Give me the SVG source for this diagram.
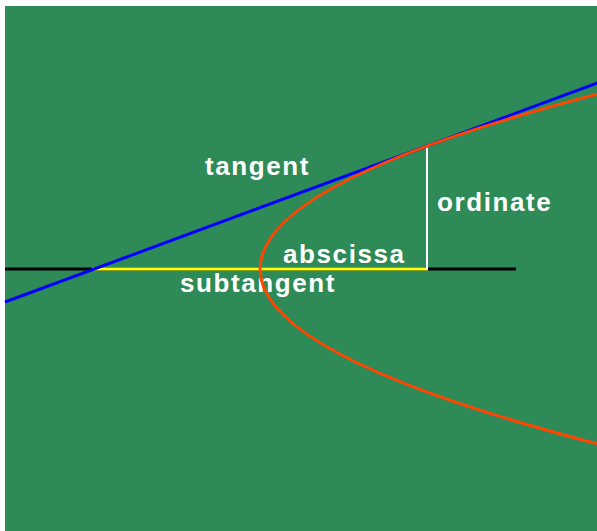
<svg xmlns="http://www.w3.org/2000/svg" width="597" height="531" viewBox="0 0 597 531">
<style>
.lbl{font-family:"Liberation Sans",Arial,sans-serif;font-weight:bold;font-size:26px;letter-spacing:1.6px;fill:#fff}
</style>
<rect x="0" y="0" width="597" height="531" fill="#fff"/>
<rect x="5" y="6" width="592" height="525" fill="#2E8B57"/>
<g id="labels">
<g id="tangent-label"><text class="lbl" x="205" y="175">tangent</text></g>
<g id="ordinate-label"><text class="lbl" x="437" y="211">ordinate</text></g>
<g id="abscissa-label"><text class="lbl" x="283" y="263">abscissa</text></g>
<g id="subtangent-label"><text class="lbl" x="180" y="292">subtangent</text></g>
</g>
<g id="connectors" fill="none">
<line id="axis" x1="5" y1="269" x2="516" y2="269" stroke="#000" stroke-width="3"/>
<line id="subtangent" x1="92" y1="269" x2="428" y2="269" stroke="#FFFF00" stroke-width="3"/>
<line id="ordinate" x1="427" y1="146" x2="427" y2="269" stroke="#fff" stroke-width="2"/>
<line id="tangent" x1="5" y1="302" x2="600" y2="82" stroke="#0000FF" stroke-width="3"/>
<path id="parabola" d="M617.6,89 Q-97.6,269 617.6,449" stroke="#FF4500" stroke-width="3"/>
</g>
</svg>
